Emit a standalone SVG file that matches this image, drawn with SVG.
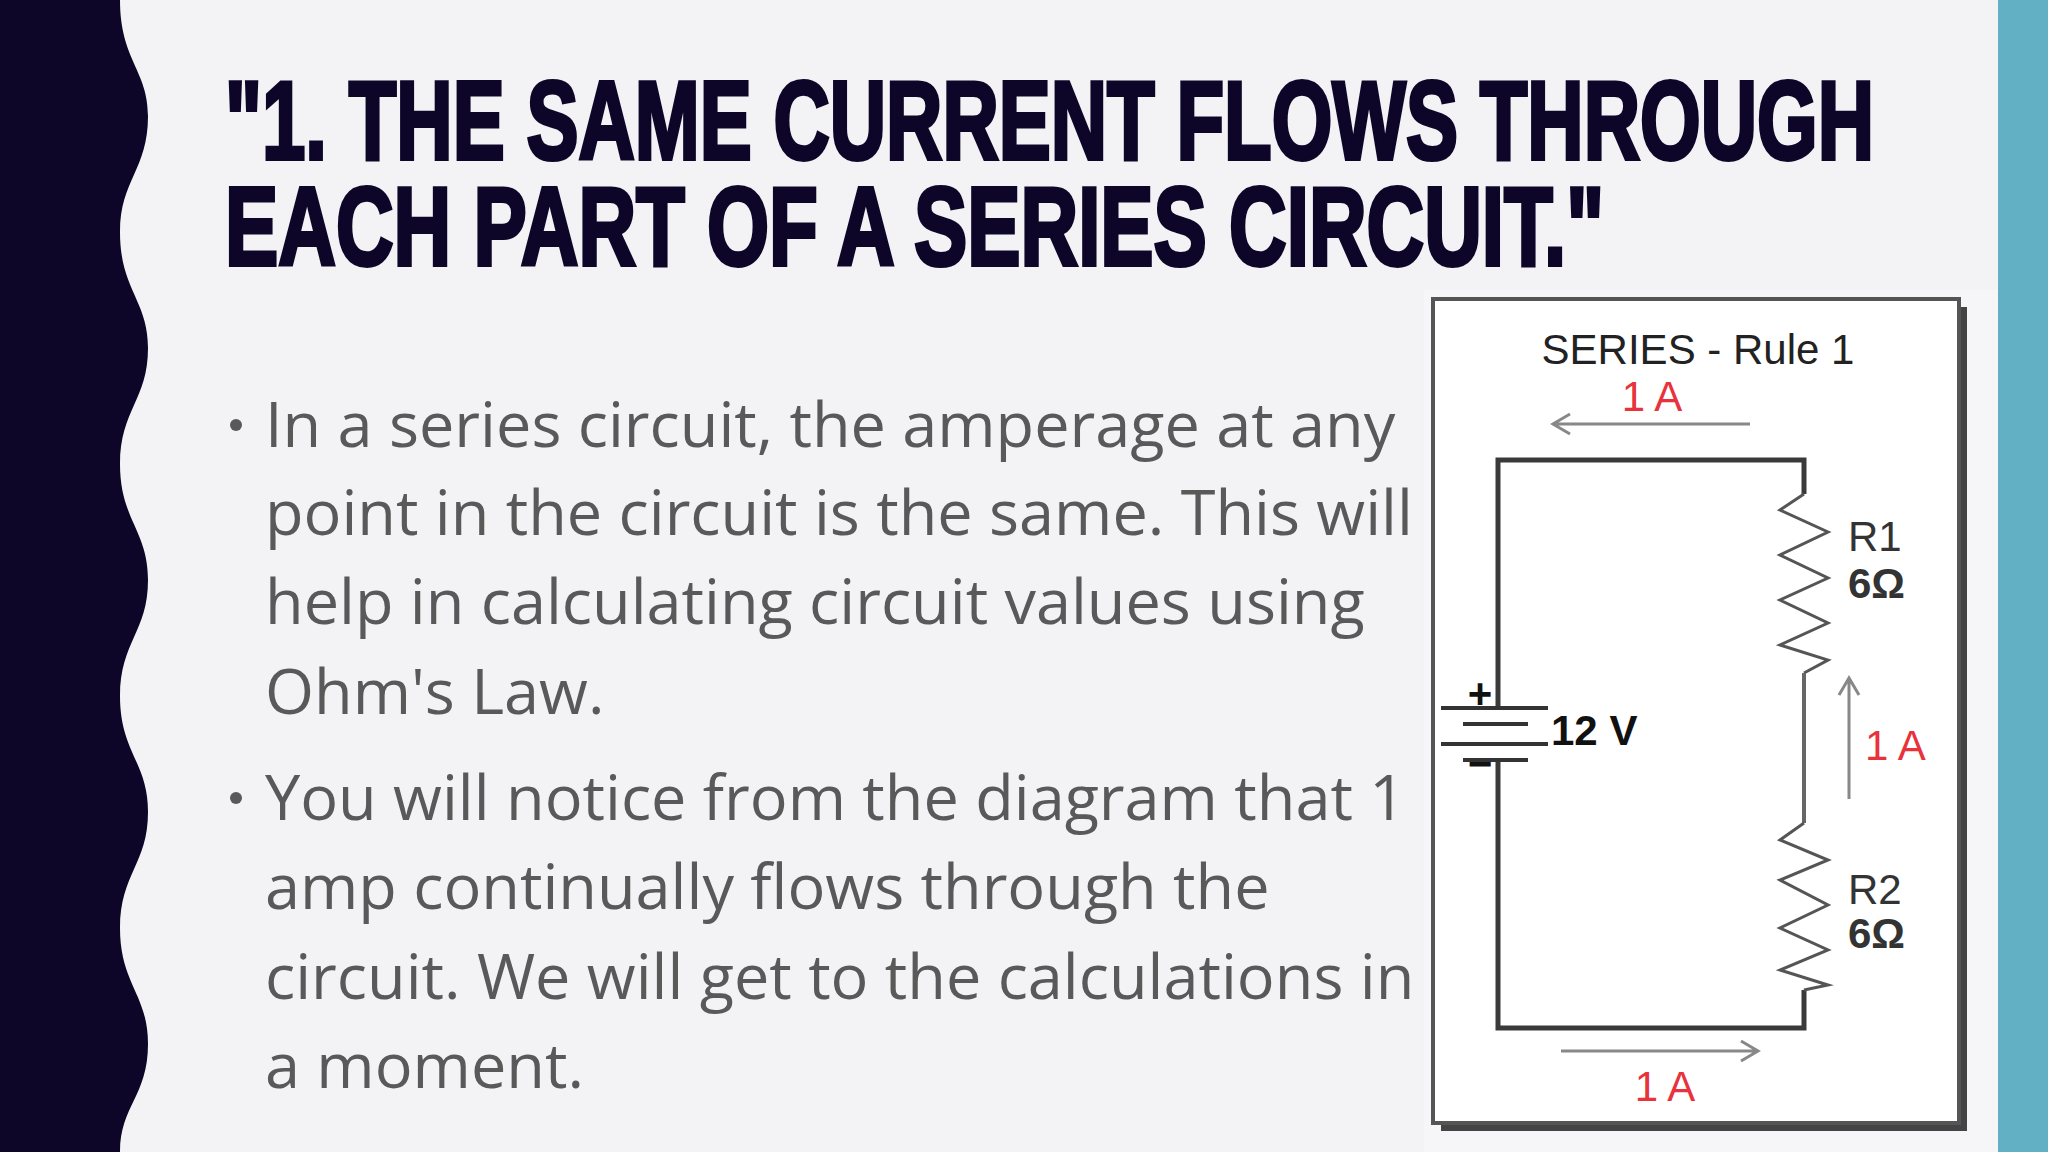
<svg xmlns="http://www.w3.org/2000/svg" width="2048" height="1152" viewBox="0 0 2048 1152">
<style>
.t{font-family:"Liberation Sans Narrow","Liberation Sans",sans-serif;font-weight:bold;fill:#0d0628;stroke:#0d0628;stroke-width:4;font-size:112px}
.b{font-family:"Open Sans",sans-serif;fill:#595959;font-size:63px}
.c{font-family:"Liberation Sans",Arial,sans-serif;font-size:42px}
.w{stroke:#3a3a3a;stroke-width:5;fill:none}
.a{stroke:#888;stroke-width:3;fill:none}
.red{fill:#e8323c}
</style>
<rect width="2048" height="1152" fill="#f3f3f5"/>
<path d="M0 0 H120 C120 60 148 70 148 116 C148 170 120 180 120 232 C120 290 148 300 148 348 C148 400 120 410 120 464 C120 520 148 530 148 580 C148 632 120 642 120 696 C120 752 148 762 148 812 C148 864 120 874 120 928 C120 984 148 994 148 1044 C148 1096 120 1106 120 1152 H0 Z" fill="#0d0628"/>
<rect x="1998" y="0" width="50" height="1152" fill="#62b0c4"/>
<g id="title">
<text class="t" x="225" y="159" textLength="1649" lengthAdjust="spacingAndGlyphs">"1. THE SAME CURRENT FLOWS THROUGH</text>
<text class="t" x="225" y="265" textLength="1379" lengthAdjust="spacingAndGlyphs">EACH PART OF A SERIES CIRCUIT."</text>
</g>
<g id="bullets" class="b">
<circle cx="236" cy="425" r="6" fill="#595959"/>
<circle cx="236" cy="798" r="6" fill="#595959"/>
<text x="265" y="447">In a series circuit, the amperage at any</text>
<text x="265" y="535">point in the circuit is the same. This will</text>
<text x="265" y="624">help in calculating circuit values using</text>
<text x="265" y="714">Ohm's Law.</text>
<text x="265" y="820">You will notice from the diagram that 1</text>
<text x="265" y="909">amp continually flows through the</text>
<text x="265" y="999">circuit. We will get to the calculations in</text>
<text x="265" y="1088">a moment.</text>
</g>
<g id="figure">
<rect x="1424" y="290" width="574" height="862" fill="#f6f6f8"/>
<rect x="1441" y="307" width="526" height="824" fill="#444"/>
<rect x="1433" y="299" width="526" height="824" fill="#fff" stroke="#555" stroke-width="4"/>
<text class="c" x="1698" y="364" text-anchor="middle" fill="#222" font-size="46">SERIES - Rule 1</text>
<text class="c red" x="1652" y="411" text-anchor="middle">1 A</text>
<g id="connectors">
<path class="a" d="M1750 424 H1554 M1570 414 L1553 424 L1570 434"/>
<path class="a" d="M1849 799 V679 M1839 695 L1849 678 L1859 695"/>
<path class="a" d="M1561 1051 H1757 M1741 1041 L1758 1051 L1741 1061"/>
</g>
<g id="circuit">
<path class="w" d="M1498 708 V460 H1804 V494"/>
<path class="w" d="M1498 760 V1028 H1804 V990"/>
<path d="M1804 494 L1780 510 L1828 532 L1780 555 L1828 578 L1780 600 L1828 623 L1780 645 L1828 660 L1804 673" stroke="#555" stroke-width="3" fill="none"/>
<path d="M1804 673 V823" stroke="#666" stroke-width="4" fill="none"/>
<path d="M1804 823 L1780 840 L1828 860 L1780 880 L1828 905 L1780 928 L1828 950 L1780 970 L1828 985 L1804 990" stroke="#555" stroke-width="3" fill="none"/>
<path d="M1441 708 H1548 M1463 724 H1528 M1441 744 H1548 M1463 760 H1528" stroke="#333" stroke-width="4"/>
<text class="c" x="1480" y="708" text-anchor="middle" font-weight="bold" font-size="30" fill="#111">+</text>
<text class="c" x="1480" y="778" text-anchor="middle" font-weight="bold" font-size="30" fill="#111">−</text>
<text class="c" x="1551" y="745" font-weight="bold" fill="#111">12 V</text>
<text class="c" x="1848" y="551" fill="#333">R1</text>
<text class="c" x="1848" y="598" font-weight="bold" fill="#333">6Ω</text>
<text class="c" x="1848" y="904" fill="#333">R2</text>
<text class="c" x="1848" y="948" font-weight="bold" fill="#333">6Ω</text>
<text class="c red" x="1865" y="760">1 A</text>
<text class="c red" x="1665" y="1101" text-anchor="middle">1 A</text>
</g>
</g>
</svg>
